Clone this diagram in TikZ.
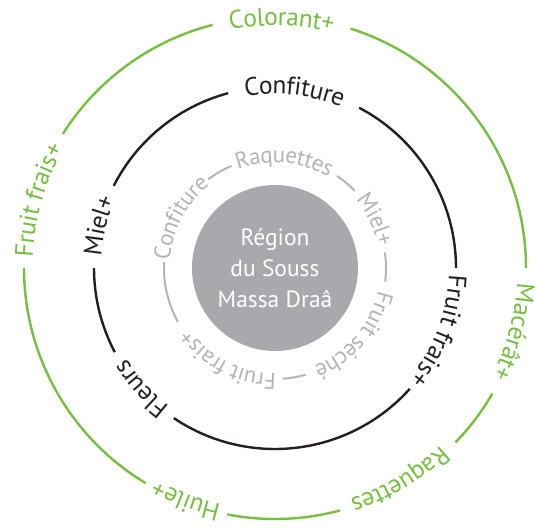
\documentclass[tikz,border=0pt]{standalone}
\usepackage{fontspec}
\setmainfont{PT Sans}
\usetikzlibrary{decorations.text}
\definecolor{lgreen}{HTML}{78BE43}
\definecolor{ink}{HTML}{231F20}
\definecolor{lgray}{HTML}{B2B4B7}
\definecolor{mgray}{HTML}{A7A9AC}
\newcommand\ringtext[6]{%
  \path[decorate,decoration={text along path,text align=center,raise=#5,text={|#4|#6}}]
    ([shift={(#2+#3:#1)}]c) arc[start angle=#2+#3,end angle=#2-#3,radius=#1];}
\newcommand\ringarc[4]{%
  \draw[#1] ([shift={(#3:#2)}]c) arc[start angle=#3,end angle=#4,radius=#2];}
\tikzset{
  greenring/.style={draw=lgreen,line width=2.4pt},
  blackring/.style={draw=ink,line width=2.4pt},
  grayring/.style={draw=lgray,line width=2pt},
}
\newcommand\gfont{\fontsize{25.5}{29}\selectfont\color{lgreen}}
\newcommand\bfont{\fontsize{25.5}{29}\selectfont\color{ink}}
\newcommand\yfont{\fontsize{23}{27}\selectfont\color{lgray}}
\begin{document}
\begin{tikzpicture}
\useasboundingbox (0pt,0pt) rectangle (535pt,-528pt);
\coordinate (c) at (275pt,-268pt);
\node[circle,fill=mgray,minimum size=166pt,inner sep=0pt,align=center,text=white,
  font=\fontsize{23.5}{31}\selectfont] (centre) at (c) {Région\\du Souss\\Massa Draâ};
% green ring
\ringarc{greenring}{251pt}{104.4}{147.7}
\ringarc{greenring}{251pt}{0}{72.5}
\ringarc{greenring}{251pt}{-30}{-44}
\ringarc{greenring}{251pt}{-75}{-101}
\ringarc{greenring}{251pt}{-121}{-180}
\ringtext{251pt}{88.5}{40}{\gfont}{-8.5pt}{Colorant+}
\ringtext{251pt}{164}{40}{\gfont}{-8.5pt}{Fruit frais+}
\ringtext{251pt}{-15}{40}{\gfont}{-8.5pt}{Macérât+}
\ringtext{251pt}{-59.5}{40}{\gfont}{-8.5pt}{Raquettes}
\ringtext{251pt}{-111}{40}{\gfont}{-8.5pt}{Huile+}
% black ring
\ringarc{blackring}{181pt}{105}{153}
\ringarc{blackring}{181pt}{0}{62.3}
\ringarc{blackring}{181pt}{-124}{-41.9}
\ringarc{blackring}{181pt}{180}{207.7}
\ringtext{181pt}{83.7}{45}{\bfont}{-7pt}{Confiture}
\ringtext{181pt}{166.5}{45}{\bfont}{-7pt}{Miel+}
\ringtext{181pt}{-138}{45}{\bfont}{-7pt}{Fleurs}
\ringtext{181pt}{-21}{45}{\bfont}{-7pt}{Fruit frais+}
% gray ring
\ringarc{grayring}{111pt}{113}{127}
\ringarc{grayring}{111pt}{44}{56}
\ringarc{grayring}{111pt}{-7}{8}
\ringarc{grayring}{111pt}{-86}{-74}
\ringarc{grayring}{111pt}{177}{209}
\ringtext{111pt}{152}{60}{\yfont}{-5.5pt}{Confiture}
\ringtext{111pt}{85}{60}{\yfont}{-5.5pt}{Raquettes}
\ringtext{111pt}{26}{60}{\yfont}{-5.5pt}{Miel+}
\ringtext{111pt}{-40.5}{60}{\yfont}{-5.5pt}{Fruit séché}
\ringtext{111pt}{-117}{60}{\yfont}{-5.5pt}{Fruit frais+}
\end{tikzpicture}
\end{document}
